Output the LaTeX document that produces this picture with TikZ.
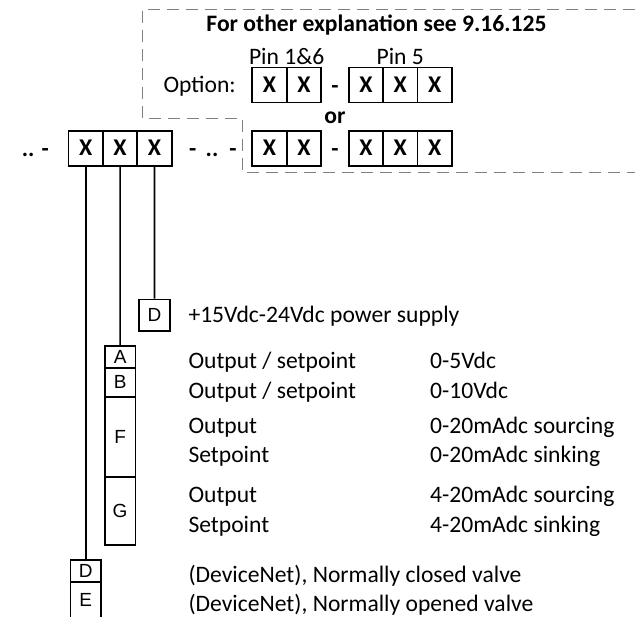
\documentclass[tikz,border=0pt]{standalone}
\usepackage{fontspec}
\setmainfont{Carlito}
\newfontfamily\boxfont{Liberation Sans}
\usepackage{tikz}
\usetikzlibrary{positioning,calc}

\begin{document}
\begin{tikzpicture}[x=1pt,y=-1pt,
    font=\fontsize{23.6}{28}\selectfont,
    cell/.style={draw,line width=1.7pt,minimum width=34.4pt,minimum height=35pt,inner sep=0pt,font=\fontsize{24}{28}\selectfont\bfseries},
    pinbox/.style={draw,line width=1.7pt,minimum width=30.5pt,inner sep=0pt,font=\boxfont\fontsize{19}{21}\selectfont},
    txt/.style={anchor=base west,inner sep=0pt},
    boldtxt/.style={inner sep=0pt,font=\fontsize{23.6}{28}\selectfont\bfseries},
    wire/.style={line width=1.7pt},
    frame/.style={draw=gray,line width=1.2pt,dash pattern=on 12pt off 7pt}
]
\useasboundingbox (0,0) rectangle (635,617);
% dashed frame round the options
\draw[frame] (635,9.3) -| (142.7,118.3) -| (242.7,172.7) -- (635,172.7);
\node[boldtxt,anchor=base] (title) at (376.5,31.6) {For other explanation see 9.16.125};
\node[anchor=base,inner sep=0pt] (pin16) at (286.7,64.3) {Pin 1\&6};
\node[anchor=base,inner sep=0pt] (pin5) at (400.2,64.3) {Pin 5};
\node[txt] (opt) at (163.3,92.7) {Option:};
\node[boldtxt,anchor=base] (or) at (335,124) {or};
% code boxes
\foreach \i in {1,2,3} \node[cell] (m\i) at ({68.5+34.4*(\i-0.5)},148.2) {X};
\foreach \i in {1,2} \node[cell] (p\i) at ({252.3+34.4*(\i-0.5)},84.9) {X};
\foreach \i in {1,2,3} \node[cell] (q\i) at ({348.7+34.4*(\i-0.5)},84.9) {X};
\foreach \i in {1,2} \node[cell] (r\i) at ({252.3+34.4*(\i-0.5)},148.2) {X};
\foreach \i in {1,2,3} \node[cell] (s\i) at ({348.7+34.4*(\i-0.5)},148.2) {X};
\node[boldtxt,anchor=base] (dash1) at (335,93.3) {-};
\node[boldtxt,anchor=base] (dash2) at (335,157) {-};
\node[boldtxt,anchor=base west] (dots1) at (21.7,157) {.. -};
\node[boldtxt,anchor=base west] (dots2) at (189,157) {-\hspace{4pt} ..\hspace{4pt} -};
% pin letters
\node[pinbox,minimum height=31.5pt] (pwr) at (154.5,315.3) {D};
\node[pinbox,minimum height=21.7pt] (a) at (120.1,356.85) {A};
\node[pinbox,minimum height=29.3pt] (b) at (120.1,382.35) {B};
\node[pinbox,minimum height=79.7pt] (f) at (120.1,436.85) {F};
\node[pinbox,minimum height=68.6pt] (g) at (120.1,511) {G};
\node[pinbox,minimum height=21.7pt] (dn) at (85.7,570.85) {D};
\node[pinbox,minimum height=36.5pt] (e) at (85.7,599.95) {E};
\draw[wire] (m1.south) -- (dn.north);
\draw[wire] (m2.south) -- (a.north);
\draw[wire] (m3.south) -- (pwr.north);
% descriptions
\node[txt] (pwrtxt) at (188.3,322.6) {+15Vdc-24Vdc power supply};
\foreach \y/\a/\b [count=\k] in {368.6/{Output / setpoint}/0-5Vdc,
    398.3/{Output / setpoint}/0-10Vdc,
    433.6/Output/0-20mAdc sourcing,
    462.6/Setpoint/0-20mAdc sinking,
    502.6/Output/4-20mAdc sourcing,
    532.6/Setpoint/4-20mAdc sinking}{
  \node[txt] (sig\k) at (188.3,\y) {\a};
  \node[txt] (rng\k) at (430,\y) {\b};
}
\node[txt] (nc) at (188.3,582.6) {(DeviceNet), Normally closed valve};
\node[txt] (no) at (188.3,611.6) {(DeviceNet), Normally opened valve};
\end{tikzpicture}
\end{document}
